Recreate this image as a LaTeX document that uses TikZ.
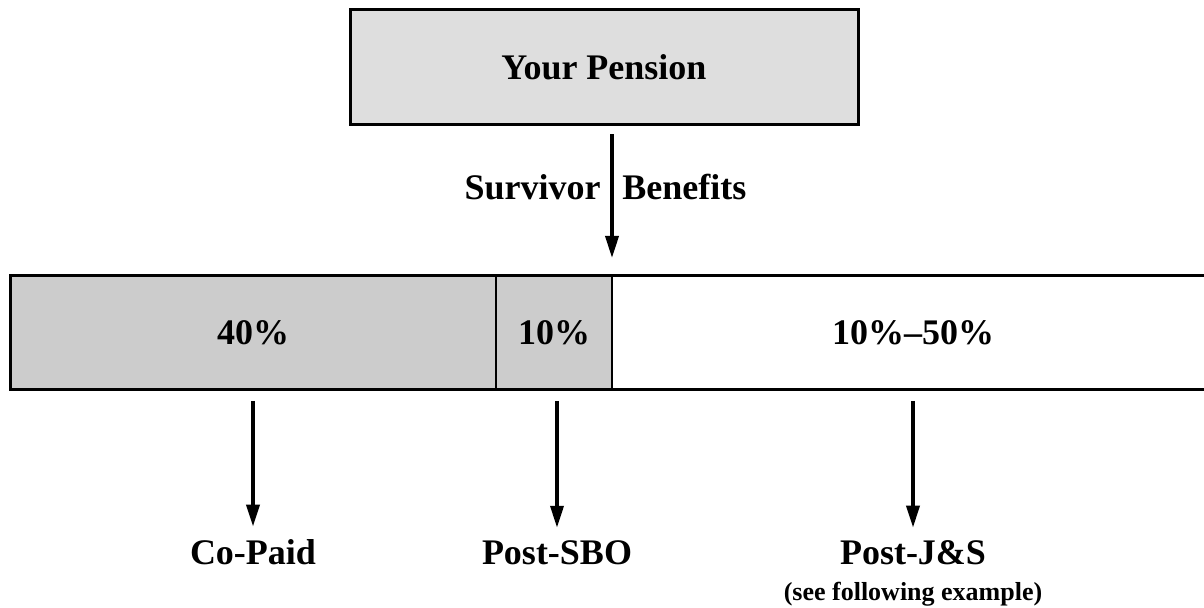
\documentclass[tikz,border=0pt]{standalone}
\usepackage{fontspec}
\setmainfont{Liberation Serif}
\usetikzlibrary{arrows.meta,positioning}

\begin{document}
\begin{tikzpicture}
        [
            x=0.5pt, y=-0.5pt,
            font=\fontsize{18}{21}\selectfont\bfseries,
            inner sep=0pt,
            line/.style = {
                draw,
                line width=1.8pt,
                -{Triangle[length=11pt,width=6.5pt]}
            },
            top/.style = {
                rectangle,
                draw,
                line width=1.5pt,
                fill=black!13,
                minimum width=254pt,
                minimum height=57.5pt
            },
            part/.style = {
                rectangle,
                draw,
                line width=1pt,
                fill=black!20,
                minimum height=57pt,
                outer sep=0pt
            }
        ]

        \useasboundingbox (0,0) rectangle (1204,608);

        \node[top] (pension) at (604,67.5) {Your Pension};
        \node[part,minimum width=243pt] (seg40) at (253,333) {40\%};
        \node[part,minimum width=58pt,right=0pt of seg40] (seg10) {10\%};
        \node[part,minimum width=301pt,fill=white,right=0pt of seg10] (segrest) {10\%--50\%};
        \draw[line width=1.5pt] (seg40.north west) rectangle (segrest.south east);

        \node[anchor=base east] (survivor) at (601,200) {Survivor};
        \node[anchor=base west] (benefits) at (622,200) {Benefits};

        \node[anchor=base] (copaid) at (253,565) {Co-Paid};
        \node[anchor=base] (postsbo) at (557,565) {Post-SBO};
        \node[anchor=base] (postjs) at (913,565) {Post-J\&S};
        \node[anchor=base,font=\fontsize{13}{15}\selectfont\bfseries] (note) at (913,600) {(see following example)};

        \path[line,shorten <=4pt,shorten >=9pt] (pension.south -| seg10.north east) -- (seg10.north east);
        \path[line,shorten <=5.5pt,shorten >=6.5pt] (seg40.south) -- (copaid.north);
        \path[line,shorten <=5.5pt,shorten >=6.5pt] (seg10.south -| postsbo) -- (postsbo.north);
        \path[line,shorten <=5.5pt,shorten >=6.5pt] (segrest.south) -- (postjs.north);
    \end{tikzpicture}
\end{document}
